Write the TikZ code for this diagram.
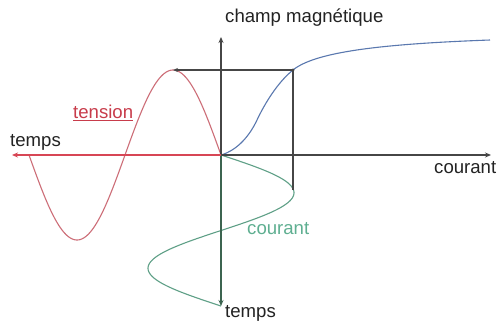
\documentclass[tikz,border=0pt]{standalone}
\usepackage{fontspec}
\setmainfont{Liberation Sans}
\usetikzlibrary{arrows.meta}
\definecolor{axisgrey}{RGB}{70,70,70}
\definecolor{redaxis}{RGB}{215,70,85}
\definecolor{redcurve}{RGB}{205,110,120}
\definecolor{greencurve}{RGB}{95,160,135}
\definecolor{greentext}{RGB}{95,175,145}
\definecolor{greenaxis}{RGB}{60,100,80}
\definecolor{bluecurve}{RGB}{90,120,175}
\definecolor{textgrey}{RGB}{35,35,35}
\definecolor{redtext}{RGB}{200,60,75}
\begin{document}
\begin{tikzpicture}[x=1pt,y=-1pt,
  lbl/.style={font=\fontsize{18.6}{20}\selectfont,text=textgrey,inner sep=0pt},
  axis/.style={line width=1.4pt,-{Stealth[length=6pt,width=5pt]}},
  curve/.style={line width=1.1pt},
  guide/.style={line width=1.2pt,draw=axisgrey}]
\useasboundingbox[fill=white] (0,0) rectangle (500,322);
\coordinate (O) at (221,155);
\coordinate (top) at (221,37);
\coordinate (right) at (491,155);
\coordinate (left) at (12,155);
\coordinate (bottom) at (221,306);
\coordinate (P) at (293,70);
\coordinate (Q) at (173,70);
\coordinate (R) at (293,190);
% labels
\node[lbl,anchor=west] (champ) at (225,18) {champ magnétique};
\node[lbl,anchor=west] (tl) at (10,142) {temps};
\node[lbl,anchor=west] (cr) at (434,168) {courant};
\node[lbl,anchor=west] (tb) at (225,313) {temps};
\node[lbl,anchor=west,text=greentext] (cg) at (247,229) {courant};
\node[lbl,anchor=west,text=redtext] (ten) at (73,113) {\underline{tension}};
% curves
\draw[curve,redcurve] plot[domain=0:192,samples=120,smooth] ({221-\x},{155-85*sin(1.875*\x)});
\draw[curve,greencurve] plot[domain=0:151,samples=120,smooth] ({221+73*sin(2.384*\x)},{155+\x});
\draw[curve,bluecurve] (O) .. controls (238,150) and (250,135) .. (257,120)
   .. controls (265,103) and (278,82) .. (P)
   .. controls (315,52) and (380,44) .. (490,40);
% guides
\draw[guide,-{Stealth[length=5pt,width=4pt]}] (P) -- (Q);
\draw[guide] (P) -- (R);
\fill[axisgrey] (P) circle (1.6pt);
% axes
\draw[axis,axisgrey] (O) -- (top);
\draw[axis,axisgrey] (O) -- (right);
\draw[axis,greenaxis] (O) -- (bottom);
\draw[axis,redaxis,line width=1.8pt] (O) -- (left);
\end{tikzpicture}
\end{document}
